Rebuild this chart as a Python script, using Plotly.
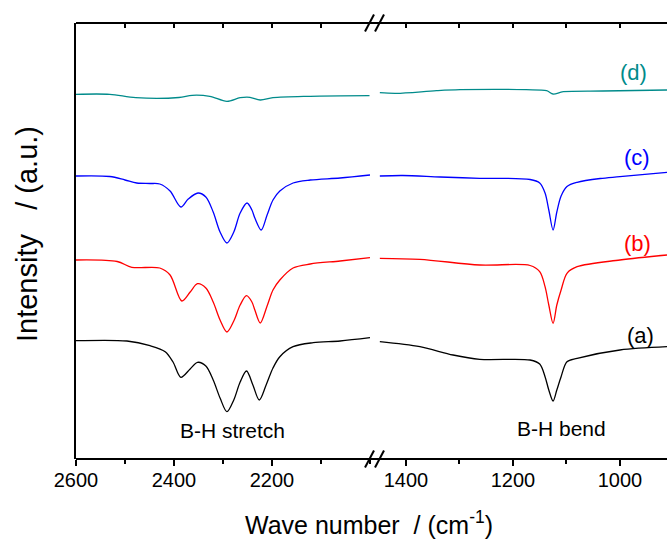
import plotly.graph_objects as go

# Wavenumber grids (cm^-1) for the two axis segments
wn_hi_c = [2600, 2531, 2500, 2476, 2449, 2429, 2408, 2386, 2371, 2351, 2335, 2320, 2306,
           2292, 2278, 2265, 2251, 2241, 2235, 2222, 2210, 2198, 2184, 2157, 2122, 2061, 2000]
int_hi_c = [283, 282.5, 279, 276, 275.5, 275, 268, 252, 260, 266, 262, 247, 227,
            216, 227, 246, 256, 249, 241, 229, 244, 259, 268, 276, 279, 281, 284]

wn_hi_b = [2600, 2516, 2486, 2429, 2408, 2384, 2367, 2352, 2335, 2320, 2306, 2292, 2278,
           2265, 2252, 2241, 2235, 2224, 2210, 2198, 2184, 2157, 2122, 2061, 2000]
int_hi_b = [199, 197.5, 191.7, 191, 184, 158, 167, 175.3, 171, 157, 139, 127, 138,
            154, 163.3, 157, 149, 136, 153, 169, 179, 191, 195, 198, 201.3]

wn_hi_a = [2600, 2496, 2449, 2418, 2402, 2386, 2367, 2352, 2335, 2320, 2306, 2292, 2278,
           2265, 2252, 2239, 2226, 2212, 2198, 2184, 2157, 2116, 2061, 2000]
int_hi_a = [118.3, 118, 113.3, 107.3, 97, 81.7, 90, 96.7, 93, 79, 61, 47.3, 59,
            77, 88, 74, 59, 74, 91, 102.3, 112.3, 116.3, 118, 121.3]

wn_hi_d = [2600, 2531, 2478, 2390, 2363, 2327, 2292, 2265, 2245, 2224, 2198, 2122, 2001]
int_hi_d = [364.7, 364.7, 361.3, 361.5, 363.7, 362.7, 357.7, 361.3, 361.7, 359, 361.3, 362.7, 363.3]

wn_lo_c = [1449, 1406, 1336, 1262, 1168, 1150, 1140, 1133, 1125, 1118, 1110, 1099, 1080, 1037, 1000, 912]
int_lo_c = [283, 283.5, 282, 280.7, 279.5, 276, 266, 249, 229, 247, 263, 272.5, 276.7, 280.5, 282.3, 286.7]

wn_lo_b = [1449, 1374, 1262, 1168, 1150, 1140, 1133, 1125, 1118, 1110, 1099, 1080, 1000, 912]
int_lo_b = [200.7, 199.7, 194, 193.5, 187.3, 172.3, 154, 135.7, 154, 169, 185.7, 192.3, 199, 204]

wn_lo_a = [1449, 1374, 1312, 1262, 1168, 1150, 1140, 1133, 1125, 1118, 1110, 1099, 1080, 1000, 912]
int_lo_a = [117.3, 112.3, 104, 99.7, 99, 95, 82.3, 69, 58, 69, 82.3, 97.3, 100.7, 109, 112.3]

wn_lo_d = [1449, 1418, 1343, 1299, 1175, 1137, 1125, 1106, 1032, 912]
int_lo_d = [366.3, 365.7, 368.3, 369.3, 369.3, 368.3, 365, 367.3, 368, 369]

labels = ["(a)", "(b)", "(c)", "(d)"]
label_wn = [962, 968, 968, 974]
label_int = [124, 216, 302, 387]
colors = ["#000000", "#FF0000", "#0000FF", "#008B8B"]

hi_ticks = [2600, 2400, 2200]
lo_ticks = [1400, 1200, 1000]
hi_top_ticks = [2500, 2400, 2300, 2200, 2100]
lo_top_ticks = [1400, 1300, 1200, 1100, 1000]

FONT = "Liberation Sans, Arial, sans-serif"

fig = go.Figure()

hi_sets = [(wn_hi_a, int_hi_a), (wn_hi_b, int_hi_b), (wn_hi_c, int_hi_c), (wn_hi_d, int_hi_d)]
lo_sets = [(wn_lo_a, int_lo_a), (wn_lo_b, int_lo_b), (wn_lo_c, int_lo_c), (wn_lo_d, int_lo_d)]

for (wx, wy), col in zip(hi_sets, colors):
    fig.add_trace(go.Scatter(x=wx, y=wy, mode="lines", xaxis="x", yaxis="y",
                             line=dict(color=col, width=1.3, shape="spline", smoothing=0.9),
                             showlegend=False, hoverinfo="skip"))
for (wx, wy), col in zip(lo_sets, colors):
    fig.add_trace(go.Scatter(x=wx, y=wy, mode="lines", xaxis="x2", yaxis="y",
                             line=dict(color=col, width=1.3, shape="spline", smoothing=0.9),
                             showlegend=False, hoverinfo="skip"))

# transparent anchors so the top tick axes get drawn
fig.add_trace(go.Scatter(x=[2300], y=[200], xaxis="x3", yaxis="y", mode="markers",
                         marker=dict(opacity=0), showlegend=False, hoverinfo="skip"))
fig.add_trace(go.Scatter(x=[1200], y=[200], xaxis="x4", yaxis="y", mode="markers",
                         marker=dict(opacity=0), showlegend=False, hoverinfo="skip"))

L = 76
W = 667
plot_w = W - L
dom_hi = [0, (370 - L) / plot_w]
dom_lo = [(379.25 - L) / plot_w, 1]
rng_hi = [2600, 2000]
rng_lo = [1450, 912]

tickfont = dict(family=FONT, size=20, color="#000")
common = dict(showgrid=False, zeroline=False, showline=False, anchor="y",
              ticks="outside", ticklen=6, tickwidth=1.5, tickcolor="#000",
              tickfont=tickfont, ticklabelstandoff=-3)
top_common = dict(side="top", anchor="y", ticks="inside", ticklen=5,
                  tickwidth=1.5, tickcolor="#000", showticklabels=False,
                  showgrid=False, zeroline=False, showline=False)

fig.update_layout(
    width=667, height=543,
    margin=dict(l=L, r=0, t=23, b=84),
    paper_bgcolor="white", plot_bgcolor="white",
    xaxis=dict(domain=dom_hi, range=rng_hi, tickvals=hi_ticks,
               minor=dict(dtick=100, tick0=2600, ticks="outside", ticklen=4, tickwidth=1.5, tickcolor="#000"),
               **common),
    xaxis2=dict(domain=dom_lo, range=rng_lo, tickvals=lo_ticks,
                minor=dict(dtick=100, tick0=1400, ticks="outside", ticklen=4, tickwidth=1.5, tickcolor="#000"),
                **common),
    xaxis3=dict(domain=dom_hi, range=rng_hi, overlaying="x", tickvals=hi_top_ticks, **top_common),
    xaxis4=dict(domain=dom_lo, range=rng_lo, overlaying="x2", tickvals=lo_top_ticks, **top_common),
    yaxis=dict(range=[0, 436], showgrid=False, zeroline=False, showline=True,
               linecolor="#000", linewidth=2, ticks="", showticklabels=False),
)

# frame lines running across the axis break
for yy in (0, 1):
    fig.add_shape(type="line", xref="paper", yref="paper", x0=0, x1=1, y0=yy, y1=yy,
                  line=dict(color="#000", width=2), layer="above")

# break marks on top and bottom axes
gap_c = (374.5 - L) / plot_w
dx = 4.5 / plot_w
dy = 8.5 / 436
for yy in (0, 1):
    for off in (-5.0 / plot_w, 5.0 / plot_w):
        fig.add_shape(type="line", xref="paper", yref="paper",
                      x0=gap_c + off - dx, x1=gap_c + off + dx, y0=yy - dy, y1=yy + dy,
                      line=dict(color="#000", width=2), layer="above")

for txt, wx, wy, col in zip(labels, label_wn, label_int, colors):
    fig.add_annotation(x=wx, y=wy, xref="x2", yref="y", text=txt, showarrow=False,
                       font=dict(family=FONT, size=22, color=col))

fig.add_annotation(x=2280, y=29, xref="x", yref="y", text="B-H stretch", showarrow=False,
                   font=dict(family=FONT, size=21, color="#000"))
fig.add_annotation(x=1109, y=31, xref="x2", yref="y", text="B-H bend", showarrow=False,
                   font=dict(family=FONT, size=21, color="#000"))

fig.add_annotation(x=(369 - L) / plot_w, y=-(523 - 459) / 436, xref="paper", yref="paper",
                   text="Wave number&nbsp; / (cm<sup>-1</sup>)", showarrow=False,
                   xanchor="center", yanchor="middle",
                   font=dict(family=FONT, size=25, color="#000"))
fig.add_annotation(x=(27 - L) / plot_w, y=(459 - 234) / 436, xref="paper", yref="paper",
                   text="Intensity&nbsp;&nbsp; / (a.u.)", showarrow=False, textangle=-90,
                   xanchor="center", yanchor="middle",
                   font=dict(family=FONT, size=29, color="#000"))

fig.write_html("out.html")
